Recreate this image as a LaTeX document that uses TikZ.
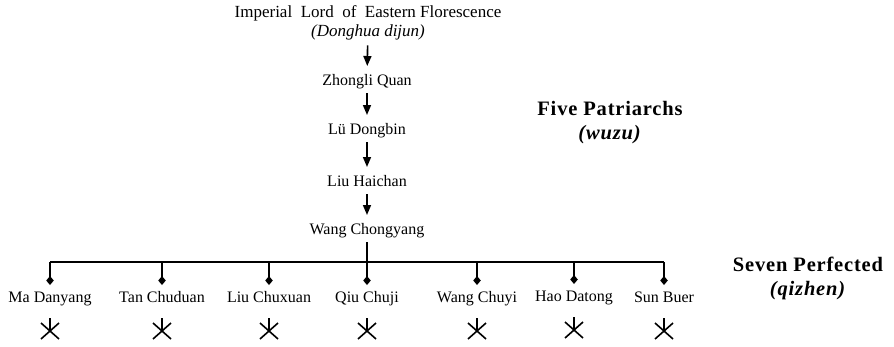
\documentclass[tikz,border=0pt]{standalone}
\usepackage{fontspec}
\setmainfont{Liberation Serif}
\usepackage{tikz}
\usetikzlibrary{arrows.meta,positioning,calc}

\begin{document}
\begin{tikzpicture}[
  x=1pt,y=-1pt,
  person/.style={font=\fontsize{16}{18}\selectfont,inner sep=0pt,text height=11pt,text depth=3pt,outer sep=5pt},
  group/.style={font=\fontsize{20.5}{24}\selectfont\bfseries\addfontfeatures{LetterSpace=4},align=center},
  line/.style={line width=1.6pt},
  arr/.style={line,-{Triangle[length=10pt,width=8pt]},shorten >=3pt},
  branch/.style={line,-{Diamond[length=9pt,width=7.5pt]},shorten >=1pt},
  cross/.style={line width=1.6pt}
]
\useasboundingbox (0,0) rectangle (894,346);
% chain of patriarchs
\node[person,align=center,text height=,text depth=,font=\fontsize{17}{19}\selectfont] (donghua) at (368,23)
  {Imperial\ \ Lord\ \ of\ \ Eastern Florescence\\\textit{(Donghua dijun)}};
\node[person] (zhongli) at (367,81) {Zhongli Quan};
\node[person] (lu) at (367,130) {Lü Dongbin};
\node[person] (haichan) at (367,182) {Liu Haichan};
\node[person] (wang) at (367,230) {Wang Chongyang};
\draw[arr] (donghua) -- (zhongli);
\draw[arr] (zhongli) -- (lu);
\draw[arr] (lu) -- (haichan);
\draw[arr] (haichan) -- (wang);
% seven perfected
\node[person] (ma) at (50,298) {Ma Danyang};
\node[person] (tan) at (162,298) {Tan Chuduan};
\node[person] (liu) at (269,298) {Liu Chuxuan};
\node[person] (qiu) at (367,298) {Qiu Chuji};
\node[person] (chuyi) at (477,298) {Wang Chuyi};
\node[person] (hao) at (574,297) {Hao Datong};
\node[person] (sun) at (664,298) {Sun Buer};
\coordinate (bar) at (0,262);
\draw[line] (ma|-bar) -- (sun|-bar);
\draw[branch] (wang) -- (qiu);
\foreach \n in {ma,tan,liu,chuyi,hao,sun}
  \draw[branch] (\n|-bar) -- (\n);
\foreach \n in {ma,tan,liu,qiu,chuyi,hao,sun}{
  \coordinate (c\n) at ($(\n.center)+(0,33)$);
  \draw[cross] (c\n) +(-9,-8) -- +(9,8) (c\n) +(9,-8) -- +(-9,8) (c\n) -- +(0,-13);
}
% group labels
\node[group] (wuzu) at (610,123) {Five Patriarchs\\\textit{(wuzu)}};
\node[group] (qizhen) at (808,278) {Seven Perfected\\\textit{(qizhen)}};
\end{tikzpicture}
\end{document}
